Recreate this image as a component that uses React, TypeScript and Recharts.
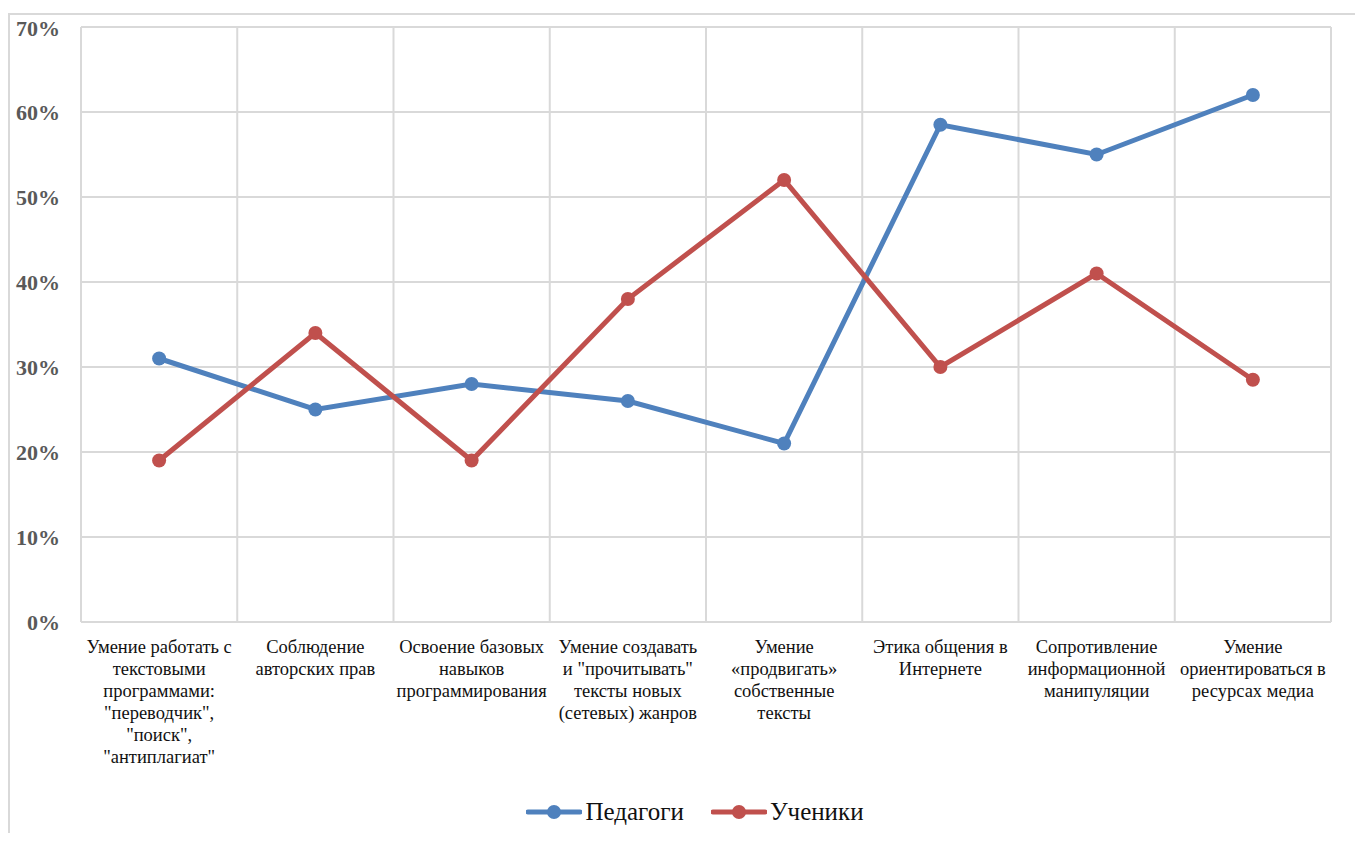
import React from 'react';
import {
  LineChart,
  Line,
  XAxis,
  YAxis,
  CartesianGrid,
  Legend,
} from 'recharts';

// Category labels, line breaks kept as they appear under the axis
const CATEGORIES: string[] = [
  'Умение работать с\nтекстовыми\nпрограммами:\n"переводчик",\n"поиск",\n"антиплагиат"',
  'Соблюдение\nавторских прав',
  'Освоение базовых\nнавыков\nпрограммирования',
  'Умение создавать\nи "прочитывать"\nтексты новых\n(сетевых) жанров',
  'Умение\n«продвигать»\nсобственные\nтексты',
  'Этика общения в\nИнтернете',
  'Сопротивление\nинформационной\nманипуляции',
  'Умение\nориентироваться в\nресурсах медиа',
];

const TEACHERS: number[] = [31, 25, 28, 26, 21, 58.5, 55, 62];
const STUDENTS: number[] = [19, 34, 19, 38, 52, 30, 41, 28.5];

const Y_TICKS: number[] = [0, 10, 20, 30, 40, 50, 60, 70];

const SERIES = [
  { key: 'teachers', name: 'Педагоги', color: '#4F81BD' },
  { key: 'students', name: 'Ученики', color: '#C0504D' },
];

const FONT = "'Liberation Serif', 'Times New Roman', serif";
const GRID = '#d9d9d9';

const data = CATEGORIES.map((c, i) => ({
  category: c,
  teachers: TEACHERS[i],
  students: STUDENTS[i],
}));

function CategoryTick(props: any) {
  const { x, y, payload } = props;
  const lines: string[] = String(payload.value).split('\n');
  return (
    <text
      x={x}
      y={y}
      textAnchor="middle"
      style={{ fontFamily: FONT, fontSize: 18.5 }}
      fill="#111"
    >
      {lines.map((l, i) => (
        <tspan key={i} x={x} dy={i === 0 ? 23 : 22}>
          {l}
        </tspan>
      ))}
    </text>
  );
}

function LegendContent() {
  return (
    <div
      style={{
        display: 'flex',
        justifyContent: 'center',
        alignItems: 'center',
        gap: 27,
        marginLeft: 49,
        paddingTop: 8,
        fontFamily: FONT,
        fontSize: 25,
        color: '#111',
      }}
    >
      {SERIES.map((s) => (
        <div key={s.key} style={{ display: 'flex', alignItems: 'center', gap: 3 }}>
          <svg width={56} height={16}>
            <line x1={2} y1={8} x2={54} y2={8} stroke={s.color} strokeWidth={5} strokeLinecap="round" />
            <circle cx={28} cy={8} r={7} fill={s.color} />
          </svg>
          <span>{s.name}</span>
        </div>
      ))}
    </div>
  );
}

export default function App() {
  return (
    <div
      style={{
        marginTop: 5,
        width: 1355,
        height: 820,
        borderTop: `2px solid ${GRID}`,
        borderLeft: `2px solid ${GRID}`,
        boxSizing: 'border-box',
        background: '#fff',
      }}
    >
      <LineChart
        width={1353}
        height={818}
        data={data}
        margin={{ top: 12, right: 32, left: 0, bottom: 3 }}
      >
        <CartesianGrid
          stroke={GRID}
          strokeWidth={2}
          verticalCoordinatesGenerator={({ offset }: any) =>
            CATEGORIES.map((_, i) => offset.left + (i * offset.width) / CATEGORIES.length).concat(
              offset.left + offset.width,
            )
          }
        />
        <XAxis
          dataKey="category"
          scale="band"
          axisLine={false}
          tickLine={false}
          interval={0}
          height={168}
          tick={<CategoryTick />}
        />
        <YAxis
          domain={[0, 70]}
          ticks={Y_TICKS}
          width={71}
          axisLine={false}
          tickLine={false}
          tickSize={0}
          tickMargin={21}
          tickFormatter={(v: number) => `${v}%`}
          tick={{ style: { fontFamily: FONT, fontSize: 22, fontWeight: 'bold' }, fill: '#595959' }}
        />
        <Legend verticalAlign="bottom" height={40} content={<LegendContent />} />
        {SERIES.map((s) => (
          <Line
            key={s.key}
            type="linear"
            dataKey={s.key}
            name={s.name}
            stroke={s.color}
            strokeWidth={5}
            dot={{ r: 7, fill: s.color, stroke: s.color, strokeWidth: 0 }}
            isAnimationActive={false}
          />
        ))}
      </LineChart>
    </div>
  );
}
